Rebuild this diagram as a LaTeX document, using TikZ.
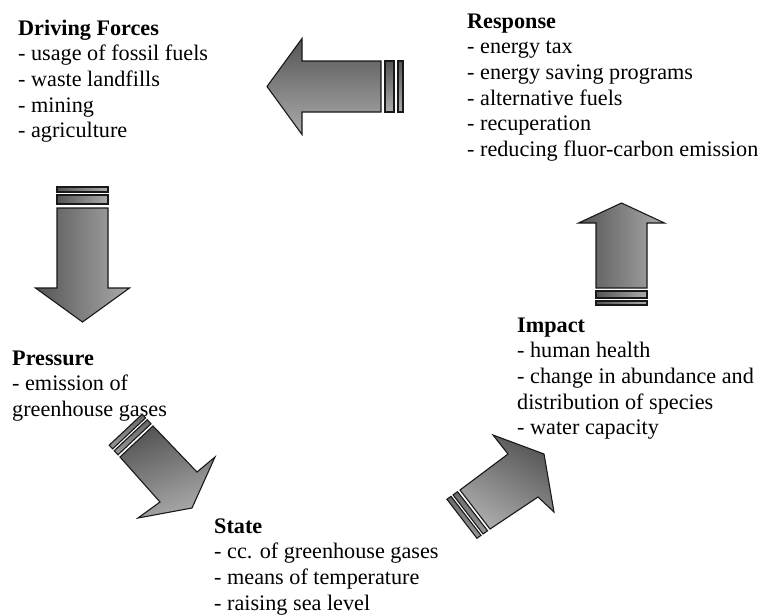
\documentclass[tikz,border=0pt]{standalone}
\usepackage{fontspec}
\setmainfont{Liberation Serif}
\definecolor{arrdark}{HTML}{555555}
\definecolor{arrlight}{HTML}{ABABAB}
\tikzset{
  arrowshape/.style={draw=black!90, line width=1.1pt, line join=miter},
  arrh/.style={arrowshape, top color=arrdark, bottom color=arrlight},
  arrv/.style={arrowshape, left color=arrdark, right color=arrlight},
  arrd/.style={arrowshape, left color=arrdark, right color=arrlight, shading angle=#1},
  lbl/.style={anchor=base west, inner sep=0pt, font=\fontsize{22.2}{25.7}\selectfont}
}
\begin{document}
\begin{tikzpicture}[x=1pt,y=-1pt]
\useasboundingbox (0,0) rectangle (761,614);

% ---------- text blocks ----------
\node[lbl] (df) at (18,35) {\begin{tabular}[t]{@{}l@{}}\textbf{Driving Forces}\\- usage of fossil fuels\\- waste landfills\\- mining\\- agriculture\end{tabular}};
\node[lbl] (resp) at (467,28) {\begin{tabular}[t]{@{}l@{}}\textbf{Response}\\- energy tax\\- energy saving programs\\- alternative fuels\\- recuperation\\- reducing fluor-carbon emission\end{tabular}};
\node[lbl] (press) at (12,365) {\begin{tabular}[t]{@{}l@{}}\textbf{Pressure}\\- emission of\\greenhouse gases\end{tabular}};
\node[lbl] (state) at (214,533) {\begin{tabular}[t]{@{}l@{}}\textbf{State}\\- cc. of greenhouse gases\\- means of temperature\\- raising sea level\end{tabular}};
\node[lbl] (imp) at (517,332) {\begin{tabular}[t]{@{}l@{}}\textbf{Impact}\\- human health\\- change in abundance and\\distribution of species\\- water capacity\end{tabular}};

% ---------- arrow 1: Response -> Driving Forces (left) ----------
\draw[arrh] (267,86.5) -- (302,38.5) -- (302,61) -- (381,61) -- (381,112) -- (302,112) -- (302,134.5) -- cycle;
\draw[arrh] (385,61) rectangle (394,112);
\draw[arrh] (398,61) rectangle (403,112);

% ---------- arrow 2: Driving Forces -> Pressure (down) ----------
\draw[arrv] (82.5,322) -- (35.5,288) -- (57,288) -- (57,208) -- (108,208) -- (108,288) -- (129.5,288) -- cycle;
\draw[arrv] (57,195) rectangle (108,204);
\draw[arrv] (57,187) rectangle (108,192);

% ---------- arrow 3: Pressure -> State (down-right) ----------
\draw[arrd=20] (120,457) -- (160,502) -- (138,518) -- (192,508) -- (215,457) -- (197,472) -- (153,426) -- cycle;
\draw[arrd=20] (117.98,454.78) -- (150.98,423.78) -- (147.27,419.72) -- (114.27,450.72) -- cycle;
\draw[arrd=20] (112.59,448.87) -- (145.59,417.87) -- (142.22,414.18) -- (109.22,445.18) -- cycle;

% ---------- arrow 4: State -> Impact (up-right) ----------
\draw[arrd=-30] (460,490) -- (508,454) -- (493,435) -- (544,454) -- (554,512) -- (538,497) -- (490,529) -- cycle;
\draw[arrd=-30] (457.55,491.73) -- (487.55,530.73) -- (483.06,533.91) -- (453.06,494.91) -- cycle;
\draw[arrd=-30] (451.02,496.36) -- (481.02,535.36) -- (476.94,538.25) -- (446.94,499.25) -- cycle;

% ---------- arrow 5: Impact -> Response (up) ----------
\draw[arrv] (621.5,203) -- (664.5,223) -- (647,223) -- (647,288) -- (596,288) -- (596,223) -- (578.5,223) -- cycle;
\draw[arrv] (596,291) rectangle (647,298);
\draw[arrv] (596,301) rectangle (647,305);
\end{tikzpicture}
\end{document}
